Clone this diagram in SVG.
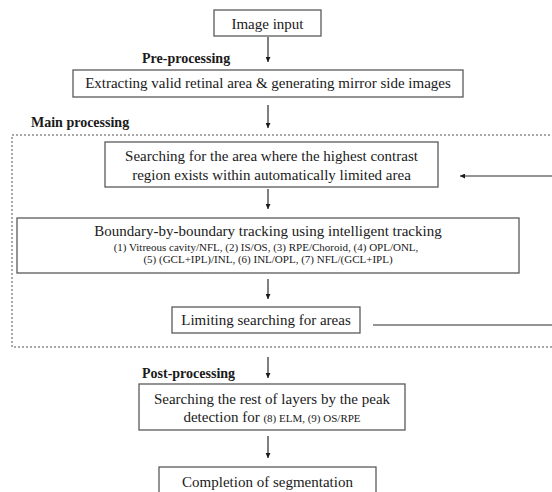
<svg xmlns="http://www.w3.org/2000/svg" width="552" height="492" viewBox="0 0 552 492">
<style>
.box{fill:#fff;stroke:#5a5a5a;stroke-width:1.3}
.t{font-family:"Liberation Serif","Times New Roman",serif;font-size:15px;fill:#1a1a1a;text-anchor:middle}
.s{font-family:"Liberation Serif","Times New Roman",serif;font-size:11px;fill:#1a1a1a;text-anchor:middle}
.b{font-family:"Liberation Serif","Times New Roman",serif;font-size:14px;font-weight:bold;fill:#1a1a1a}
.c{stroke:#2a2a2a;stroke-width:1.2;fill:none}
.d{fill:none;stroke:#555;stroke-width:1;stroke-dasharray:2 2}
</style>
<defs>
<marker id="ah" viewBox="0 0 10 10" refX="10" refY="5" markerWidth="5" markerHeight="5" orient="auto" markerUnits="userSpaceOnUse">
<path d="M0,0 L10,5 L0,10 z" fill="#1a1a1a"/>
</marker>
</defs>
<rect id="main-region" class="d" x="12" y="135" width="560" height="212"/>
<g id="labels">
<text class="b" x="142" y="63">Pre-processing</text>
<text class="b" x="31" y="127">Main processing</text>
<text class="b" x="142" y="378">Post-processing</text>
</g>
<g id="connectors">
<line class="c" x1="268" y1="37" x2="268" y2="62" marker-end="url(#ah)"/>
<line class="c" x1="268" y1="105" x2="268" y2="128" marker-end="url(#ah)"/>
<line class="c" x1="268" y1="189" x2="268" y2="209" marker-end="url(#ah)"/>
<line class="c" x1="268" y1="279" x2="268" y2="299" marker-end="url(#ah)"/>
<line class="c" x1="268" y1="357" x2="268" y2="378" marker-end="url(#ah)"/>
<line class="c" x1="268" y1="436" x2="268" y2="458" marker-end="url(#ah)"/>
<line class="c" x1="373" y1="325" x2="552" y2="325"/>
<line class="c" x1="552" y1="176" x2="460" y2="176" marker-end="url(#ah)"/>
</g>
<g id="image-input">
<rect class="box" x="214" y="10" width="107" height="26"/>
<text class="t" x="267.5" y="29">Image input</text>
</g>
<g id="pre-processing">
<rect class="box" x="73" y="70" width="390" height="27"/>
<text class="t" x="268" y="88">Extracting valid retinal area &amp; generating mirror side images</text>
</g>
<g id="search-area">
<rect class="box" x="105" y="142" width="333" height="45"/>
<text class="t" x="271.5" y="161">Searching for the area where the highest contrast</text>
<text class="t" x="271.5" y="180">region exists within automatically limited area</text>
</g>
<g id="tracking">
<rect class="box" x="17" y="218" width="502" height="55"/>
<text class="t" x="268" y="236">Boundary-by-boundary tracking using intelligent tracking</text>
<text class="s" x="266" y="251">(1) Vitreous cavity/NFL, (2) IS/OS, (3) RPE/Choroid, (4) OPL/ONL,</text>
<text class="s" x="268" y="263">(5) (GCL+IPL)/INL, (6) INL/OPL, (7) NFL/(GCL+IPL)</text>
</g>
<g id="limiting">
<rect class="box" x="172" y="307" width="188" height="26"/>
<text class="t" x="266" y="325">Limiting searching for areas</text>
</g>
<g id="post-processing">
<rect class="box" x="139" y="384" width="266" height="46"/>
<text class="t" x="272" y="404">Searching the rest of layers by the peak</text>
<text class="t" x="272" y="422">detection for <tspan style="font-size:11px">(8) ELM, (9) OS/RPE</tspan></text>
</g>
<g id="completion">
<rect class="box" x="159" y="467" width="217" height="40"/>
<text class="t" x="267.5" y="487">Completion of segmentation</text>
</g>
</svg>
